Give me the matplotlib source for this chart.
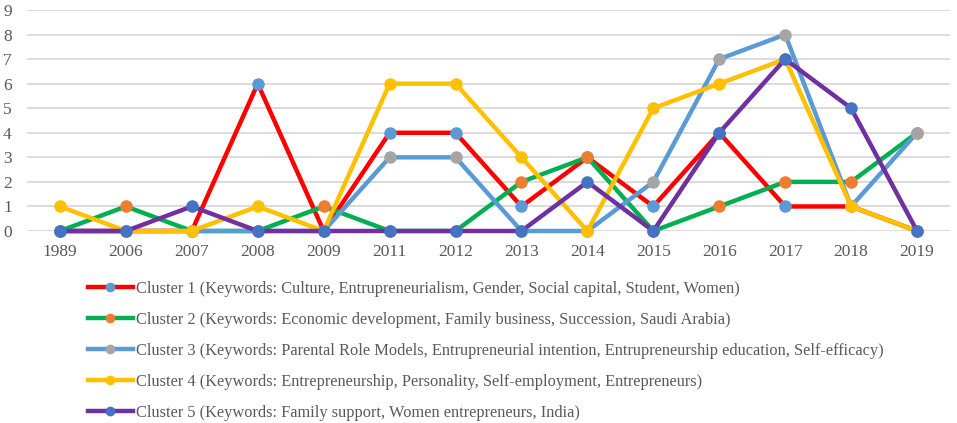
import matplotlib
matplotlib.use("Agg")
import matplotlib.pyplot as plt

years = ["1989", "2006", "2007", "2008", "2009", "2011", "2012", "2013",
         "2014", "2015", "2016", "2017", "2018", "2019"]
cluster1 = [0, 0, 0, 6, 0, 4, 4, 1, 3, 1, 4, 1, 1, 0]
cluster2 = [0, 1, 0, 0, 1, 0, 0, 2, 3, 0, 1, 2, 2, 4]
cluster3 = [0, 0, 0, 0, 0, 3, 3, 0, 0, 2, 7, 8, 1, 4]
cluster4 = [1, 0, 0, 1, 0, 6, 6, 3, 0, 5, 6, 7, 1, 0]
cluster5 = [0, 0, 1, 0, 0, 0, 0, 0, 2, 0, 4, 7, 5, 0]
labels = [
    "Cluster 1 (Keywords: Culture, Entrupreneurialism, Gender, Social capital, Student, Women)",
    "Cluster 2 (Keywords: Economic development, Family business, Succession, Saudi Arabia)",
    "Cluster 3 (Keywords: Parental Role Models, Entrupreneurial intention, Entrupreneurship education, Self-efficacy)",
    "Cluster 4 (Keywords: Entrepreneurship, Personality, Self-employment, Entrepreneurs)",
    "Cluster 5 (Keywords: Family support, Women entrepreneurs, India)",
]
series = [cluster1, cluster2, cluster3, cluster4, cluster5]
line_colors = ["#FF0000", "#00B050", "#5B9BD5", "#FFC000", "#7030A0"]
marker_colors = ["#5B9BD5", "#ED7D31", "#A5A5A5", "#FFC000", "#4472C4"]

plt.rcParams['font.family'] = ['Liberation Serif', 'DejaVu Serif']

fig = plt.figure(figsize=(9.57, 4.23), dpi=100)
ax = fig.add_axes([27/957, 1 - 231/423, (950-27)/957, (231-10)/423])

x = list(range(len(years)))
handles = []
for vals, lc, mc, lab in zip(series, line_colors, marker_colors, labels):
    h, = ax.plot(x, vals, color=lc, linewidth=3.2, marker='o', markersize=8,
                 markerfacecolor=mc, markeredgecolor=mc, label=lab,
                 clip_on=False, zorder=3)
    handles.append(h)

ax.set_xlim(-0.5, len(years) - 0.5)
ax.set_ylim(0, 9)
ax.set_yticks(range(0, 10))
ax.set_xticks(x)
ax.set_xticklabels(years)
ax.grid(axis='y', color='#D9D9D9', linewidth=1.3, zorder=0)
ax.set_axisbelow(True)
for s in ax.spines.values():
    s.set_visible(False)
ax.tick_params(axis='both', length=0, colors='#595959', labelsize=12.5)
ax.tick_params(axis='y', pad=11)
ax.tick_params(axis='x', pad=9)

leg = fig.legend(handles=handles, loc='upper left', bbox_to_anchor=(88/957, 1 - 281/423),
                 ncol=1, frameon=False, fontsize=11.75, handlelength=2.75,
                 handletextpad=0.2, labelspacing=0.92, borderaxespad=0, borderpad=0,
                 markerscale=0.75)
for t in leg.get_texts():
    t.set_color('#595959')

fig.savefig("out.png", dpi=100)
